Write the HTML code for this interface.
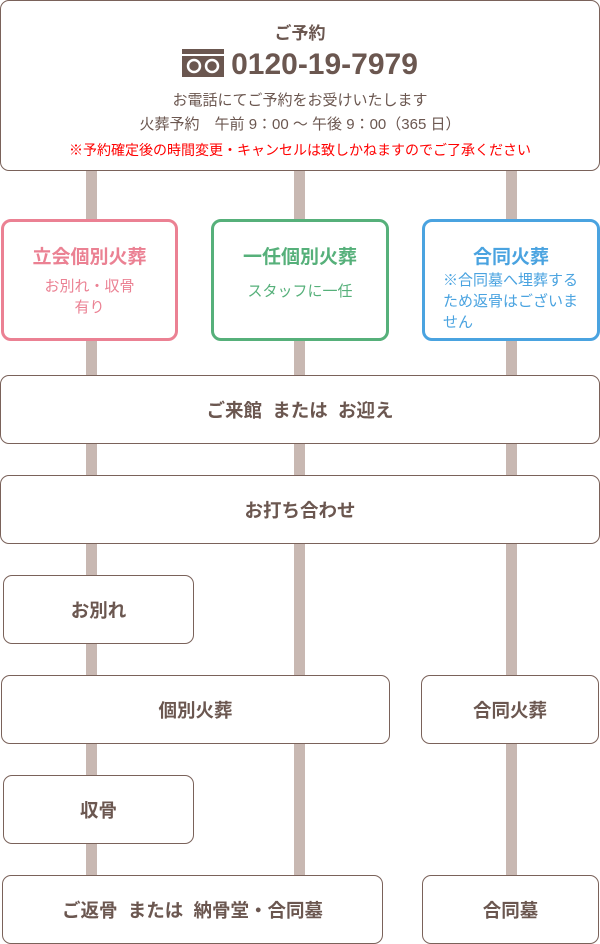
<!DOCTYPE html>
<html><head><meta charset="utf-8"><style>
body{margin:0;width:600px;height:944px;background:#fff;position:relative;overflow:hidden;font-family:"Liberation Sans","Noto Sans CJK JP",sans-serif;color:#6b5750}
.l{position:absolute;width:11px;background:#c8b8b2;top:170px;height:705px}
.b{position:absolute;box-sizing:border-box;border:1px solid #7a625a;border-radius:9px;background:#fff;display:flex;align-items:center;justify-content:center;font-weight:bold;font-size:18.5px}
.c{position:absolute;box-sizing:border-box;border:3px solid;border-radius:10px;background:#fff;text-align:center;top:219px;height:122px}
.c .t{font-weight:bold;font-size:19px;margin-top:20px}
.c .s{font-size:15px;line-height:21px;margin-top:7px}
</style></head><body>
<div class="l" style="left:86px"></div>
<div class="l" style="left:294px"></div>
<div class="l" style="left:506px"></div>

<div class="b" style="left:0;top:0;width:600px;height:171px;display:block;text-align:center;font-weight:normal">
<div style="font-weight:bold;font-size:17px;margin-top:21px;line-height:24px">ご予約</div>
<div style="font-weight:bold;font-size:30px;margin-top:1px;line-height:36px"><svg width="42" height="28" viewBox="0 0 42 28" style="vertical-align:-3px;margin-right:7px"><rect width="42" height="28" fill="#6b5750"/><rect x="0" y="5" width="42" height="2" fill="#fff"/><circle cx="12" cy="17" r="6" fill="none" stroke="#fff" stroke-width="2.5"/><circle cx="30" cy="17" r="6" fill="none" stroke="#fff" stroke-width="2.5"/></svg>0120-19-7979</div>
<div style="font-size:15px;margin-top:6px;line-height:24px">お電話にてご予約をお受けいたします</div>
<div style="font-size:15px;line-height:24px">火葬予約　午前 9：00 〜 午後 9：00（365 日）</div>
<div style="font-size:14px;color:#f00;margin-top:3px">※予約確定後の時間変更・キャンセルは致しかねますのでご了承ください</div>
</div>

<div class="c" style="left:1px;width:177px;border-color:#eb8193;color:#eb8193"><div class="t">立会個別火葬</div><div class="s">お別れ・収骨<br>有り</div></div>
<div class="c" style="left:211px;width:178px;border-color:#56b07a;color:#56b07a"><div class="t">一任個別火葬</div><div class="s" style="margin-top:12px">スタッフに一任</div></div>
<div class="c" style="left:422px;width:178px;border-color:#4aa3e0;color:#4aa3e0"><div class="t">合同火葬</div><div class="s" style="text-align:left;padding-left:18px;margin-top:1px">※合同墓へ埋葬する<br>ため返骨はございま<br>せん</div></div>

<div class="b" style="left:0;top:375px;width:600px;height:69px">ご来館&nbsp; または&nbsp; お迎え</div>
<div class="b" style="left:0;top:475px;width:600px;height:69px">お打ち合わせ</div>
<div class="b" style="left:3px;top:575px;width:191px;height:69px">お別れ</div>
<div class="b" style="left:1px;top:675px;width:389px;height:69px">個別火葬</div>
<div class="b" style="left:421px;top:675px;width:178px;height:69px">合同火葬</div>
<div class="b" style="left:3px;top:775px;width:191px;height:69px">収骨</div>
<div class="b" style="left:2px;top:875px;width:381px;height:69px">ご返骨&nbsp; または&nbsp; 納骨堂・合同墓</div>
<div class="b" style="left:422px;top:875px;width:177px;height:69px">合同墓</div>
</body></html>
